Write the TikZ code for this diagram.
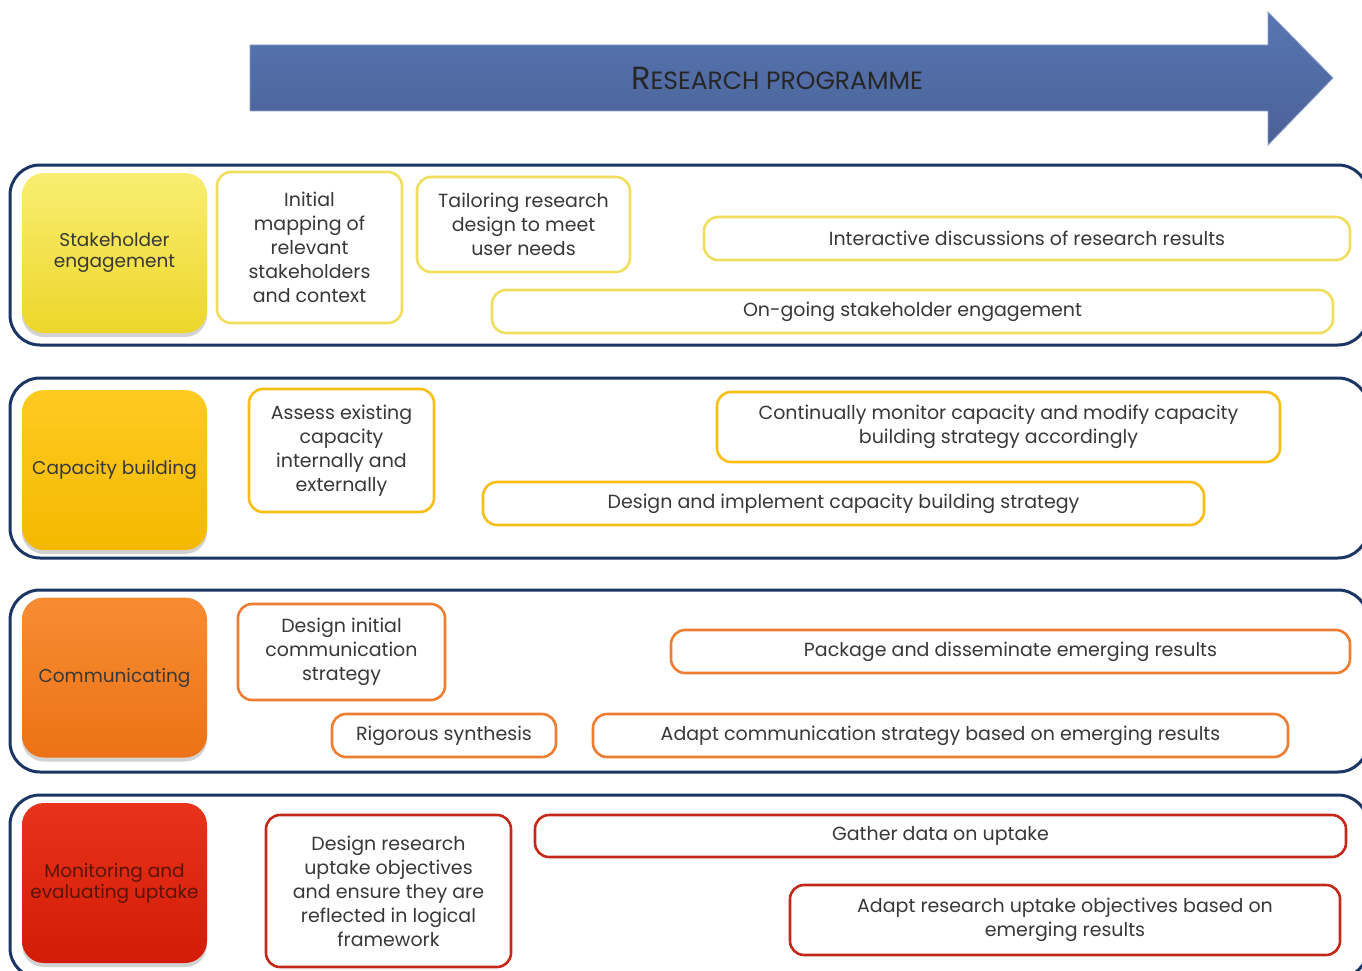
\documentclass[tikz,border=0pt]{standalone}
\usepackage{fontspec}
\setmainfont{Poppins}
\usetikzlibrary{shadows}
\definecolor{navy}{HTML}{1B3564}
\definecolor{txt}{HTML}{383838}
\definecolor{yb}{HTML}{F0DF5E}
\definecolor{gb}{HTML}{F8BE14}
\definecolor{ob}{HTML}{EE7D31}
\definecolor{rb}{HTML}{C3281A}
\definecolor{arTop}{HTML}{5876B2}
\definecolor{arBot}{HTML}{4A6197}
\definecolor{yTop}{HTML}{F9EE72}
\definecolor{yBot}{HTML}{EDD62A}
\definecolor{gTop}{HTML}{FFCB22}
\definecolor{gBot}{HTML}{F4B800}
\definecolor{oTop}{HTML}{F88C32}
\definecolor{oBot}{HTML}{EC7216}
\definecolor{rTop}{HTML}{E8321A}
\definecolor{rBot}{HTML}{D21C06}
\definecolor{rtxt}{HTML}{5A140A}
\tikzset{
  frame/.style={draw=navy, line width=3pt, rounded corners=30pt},
  lead/.style={rounded corners=22pt, minimum width=185pt, minimum height=160pt,
    align=center, text=txt, inner sep=0pt,
    font=\fontsize{18.5}{21}\selectfont,
    drop shadow={shadow xshift=0pt, shadow yshift=-4pt, opacity=0.35}},
  ibox/.style={draw, fill=white, line width=2.6pt, rounded corners=14pt, align=center,
    text=txt, inner sep=0pt, font=\fontsize{19}{24}\selectfont},
}
\begin{document}
\begin{tikzpicture}[x=1pt,y=-1pt]
\useasboundingbox (0,0) rectangle (1362,971);
\fill[white] (0,0) rectangle (1362,971);
% arrow
\path[draw=arTop!70!white, line width=0.8pt, top color=arTop, bottom color=arBot]
  (250,45) -- (1268,45) -- (1268,12) -- (1333,78) -- (1268,145) -- (1268,111) -- (250,111) -- cycle;
\node[text=black!85, inner sep=0pt] (title) at (777,78)
  {{\fontsize{32}{32}\selectfont R}{\fontsize{25}{25}\selectfont ESEARCH PROGRAMME}};
% frames
\draw[frame] (10,165) rectangle (1368,345);
\draw[frame] (10,378) rectangle (1368,558);
\draw[frame] (10,590) rectangle (1368,772);
\draw[frame] (10,795) rectangle (1368,978);
% lead blocks
\node[lead, top color=yTop, bottom color=yBot] (se) at (114.5,253) {Stakeholder\\engagement};
\node[lead, top color=gTop, bottom color=gBot] (cb) at (114.5,470) {Capacity building};
\node[lead, top color=oTop, bottom color=oBot] (cm) at (114.5,677.5) {Communicating};
\node[lead, top color=rTop, bottom color=rBot, text=rtxt] (me) at (114.5,883) {Monitoring and\\evaluating uptake};
% row 1
\node[ibox, draw=yb, minimum width=185pt, minimum height=151pt] (s1) at (309.5,247.5)
  {Initial\\mapping of\\relevant\\stakeholders\\and context};
\node[ibox, draw=yb, minimum width=213pt, minimum height=95pt] (s2) at (523.5,224.5)
  {Tailoring research\\design to meet\\user needs};
\node[ibox, draw=yb, minimum width=646pt, minimum height=43pt] (s3) at (1027,238.5)
  {Interactive discussions of research results};
\node[ibox, draw=yb, minimum width=841pt, minimum height=43pt] (s4) at (912.5,311.5)
  {On-going stakeholder engagement};
% row 2
\node[ibox, draw=gb, minimum width=185pt, minimum height=123pt] (c1) at (341.5,450.5)
  {Assess existing\\capacity\\internally and\\externally};
\node[ibox, draw=gb, minimum width=563pt, minimum height=70pt] (c2) at (998.5,427)
  {Continually monitor capacity and modify capacity\\building strategy accordingly};
\node[ibox, draw=gb, minimum width=721pt, minimum height=43pt] (c3) at (843.5,503.5)
  {Design and implement capacity building strategy};
% row 3
\node[ibox, draw=ob, minimum width=207pt, minimum height=96pt] (m1) at (341.5,652)
  {Design initial\\communication\\strategy};
\node[ibox, draw=ob, minimum width=679pt, minimum height=43pt] (m2) at (1010.5,651.5)
  {Package and disseminate emerging results};
\node[ibox, draw=ob, minimum width=224pt, minimum height=43pt] (m3) at (444,735.5)
  {Rigorous synthesis};
\node[ibox, draw=ob, minimum width=695pt, minimum height=43pt] (m4) at (940.5,735.5)
  {Adapt communication strategy based on emerging results};
% row 4
\node[ibox, draw=rb, minimum width=245pt, minimum height=152pt] (u1) at (388.5,891)
  {Design research\\uptake objectives\\and ensure they are\\reflected in logical\\framework};
\node[ibox, draw=rb, minimum width=811pt, minimum height=42pt] (u2) at (940.5,836)
  {Gather data on uptake};
\node[ibox, draw=rb, minimum width=550pt, minimum height=70pt] (u3) at (1065,920)
  {Adapt research uptake objectives based on\\emerging results};
\end{tikzpicture}
\end{document}
